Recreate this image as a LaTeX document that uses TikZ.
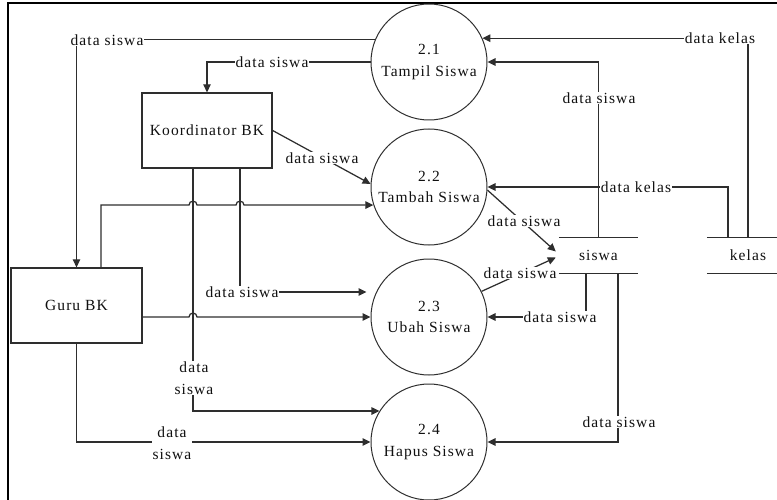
\documentclass[tikz,border=0pt]{standalone}
\usepackage{fontspec}
\setmainfont{Liberation Serif}[LetterSpace=7]
\usetikzlibrary{arrows.meta,calc}
\pgfdeclarelayer{bg}
\pgfsetlayers{bg,main}
\definecolor{ink}{HTML}{2E2E2E}
\definecolor{txt}{HTML}{101010}

\begin{document}
\begin{tikzpicture}[x=1pt,y=-1pt,
  every node/.style={font=\fontsize{15.5}{21.5}\selectfont, text=txt},
  proc/.style={circle, draw=ink, line width=1pt, minimum size=116pt, inner sep=0pt, align=center},
  entity/.style={rectangle, draw=ink, line width=1.3pt, minimum width=130pt, minimum height=75pt, inner sep=0pt},
  store/.style={rectangle, minimum height=35pt, inner sep=0pt},
  lbl/.style={fill=white, inner sep=1pt, align=center},
  flow/.style={draw=ink, line width=1.25pt, -{Triangle[length=8pt,width=7.5pt]}},
  wire/.style={draw=ink, line width=1.25pt},
]
\useasboundingbox (0,0) rectangle (777,500);

% frame edges
\draw[line width=2.4pt, black] (8,502) -- (8,3) -- (779,3);

% processes
\node[proc] (p21) at (429,62)  {2.1\\Tampil Siswa};
\node[proc] (p22) at (429,187) {2.2\\Tambah Siswa};
\node[proc] (p23) at (429,317) {2.3\\Ubah Siswa};
\node[proc] (p24) at (429,442) {2.4\\Hapus Siswa};

% external entities
\node[entity] (kbk) at (207,130.5) {Koordinator BK};
\node[entity, minimum width=131pt] (gbk) at (76.5,305.5) {Guru BK};

% data stores
\node[store, minimum width=79pt] (ss) at (598.5,255.5) {siswa};
\node[store, minimum width=82pt] (sk) at (748,255.5) {kelas};
\draw[wire] (ss.north west) -- (ss.north east) (ss.south west) -- (ss.south east);
\draw[wire] (sk.north west) -- (sk.north east) (sk.south west) -- (sk.south east);

% flow labels
\node[lbl] (l1)  at (107,40)  {data siswa};
\node[lbl] (l2)  at (272,62)  {data siswa};
\node[lbl] (l3)  at (322,158) {data siswa};
\node[lbl] (l4)  at (242,292) {data siswa};
\node[lbl] (l5)  at (194,378) {data\\siswa};
\node[lbl] (l6)  at (172,443) {data\\siswa};
\node[lbl] (l7)  at (720,38)  {data kelas};
\node[lbl] (l8)  at (599,98)  {data siswa};
\node[lbl] (l9)  at (636,187) {data kelas};
\node[lbl] (l10) at (524,221) {data siswa};
\node[lbl] (l11) at (520,273) {data siswa};
\node[lbl] (l12) at (560,317) {data siswa};
\node[lbl] (l13) at (619,422) {data siswa};

% attachment points
\coordinate (ka)  at ([xshift=-14pt]kbk.south);
\coordinate (kb)  at ([xshift=33pt]kbk.south);
\coordinate (ga)  at ([xshift=24.5pt]gbk.north);
\coordinate (kx2) at ([xshift=-20pt]sk.north);
\coordinate (sb1) at ([xshift=-12.5pt]ss.south);
\coordinate (sb2) at ([xshift=19.5pt]ss.south);
\coordinate (si1) at ([xshift=-3pt,yshift=4pt]ss.west);
\coordinate (si2) at ([xshift=-3pt,yshift=-2pt]ss.west);

\begin{pgfonlayer}{bg}
  % from Tampil Siswa
  \draw[flow] (p21.157.7) -- (p21.157.7 -| gbk.north) -- (gbk.north);
  \draw[flow] (p21.west) -- (p21.west -| kbk.north) -- (kbk.north);
  % from Koordinator BK
  \draw[flow] (kbk.east) -- (p22.177);
  \draw[flow] (kb) -- (kb |- l4) -- ([xshift=-4pt]p23.west |- l4);
  \draw[flow] (ka) -- (ka |- p24.148.8) -- (p24.148.8);
  % from Guru BK (hopping over the Koordinator BK lines)
  \draw[flow] (ga) -- (ga |- p22.198.1)
    -- ([xshift=-4pt]ka |- p22.198.1) arc[start angle=180, end angle=360, radius=4]
    -- ([xshift=-4pt]kb |- p22.198.1) arc[start angle=180, end angle=360, radius=4]
    -- (p22.198.1);
  \draw[flow] (gbk.east |- p23.west)
    -- ([xshift=-4pt]ka |- p23.west) arc[start angle=180, end angle=360, radius=4]
    -- (p23.west);
  \draw[flow] (gbk.south) -- (gbk.south |- p24.west) -- (p24.west);
  % from the stores
  \draw[flow] (sk.north) -- (sk.north |- p21.24.4) -- (p21.24.4);
  \draw[flow] (ss.north) -- (ss.north |- p21.east) -- (p21.east);
  \draw[flow] (kx2) -- (kx2 |- p22.east) -- (p22.east);
  \draw[flow] (sb1) -- (sb1 |- p23.east) -- (p23.east);
  \draw[flow] (sb2) -- (sb2 |- p24.east) -- (p24.east);
  % into the siswa store
  \draw[flow] (p22.-3) -- (si1);
  \draw[flow] (p23.26.6) -- (si2);
\end{pgfonlayer}
\end{tikzpicture}
\end{document}
